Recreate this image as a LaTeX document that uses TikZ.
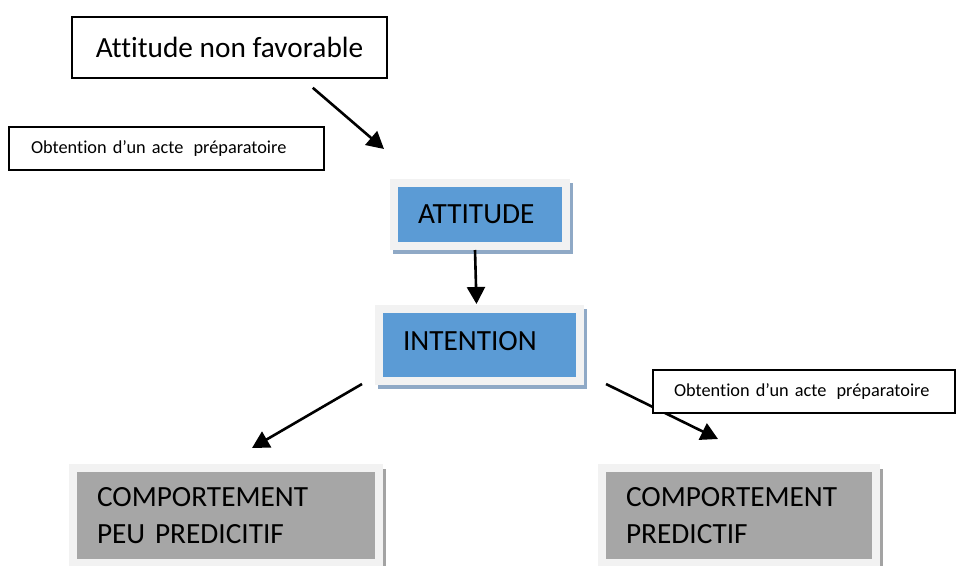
\documentclass[tikz,border=0pt]{standalone}
\usepackage{fontspec}
\setmainfont[Ligatures=NoCommon]{Carlito}
\usetikzlibrary{arrows.meta}

\definecolor{boxblue}{HTML}{5B9BD5}
\definecolor{boxgray}{HTML}{A6A6A6}
\definecolor{framegray}{HTML}{F2F2F2}
\definecolor{blueshadow}{HTML}{8FA9C6}
\definecolor{grayshadow}{HTML}{A3A3A3}

\newcommand{\bigtext}{\fontsize{29.3}{37}\selectfont}
\newcommand{\smalltext}{\fontsize{18.3}{22}\selectfont}

\begin{document}
\begin{tikzpicture}[
 x=1pt, y=-1pt,
 titlebox/.style={draw,line width=1.5pt,fill=white,font=\bigtext,minimum width=315pt,minimum height=61pt},
 notebox/.style={draw,line width=1.4pt,fill=white,font=\smalltext,align=left,inner xsep=22pt,minimum height=43pt},
 framed/.style={draw=framegray,line width=8pt,font=\bigtext,align=left,inner xsep=24pt},
 bluebox/.style={framed,fill=boxblue,
   preaction={draw=blueshadow,fill=blueshadow,transform canvas={shift={(3pt,-4pt)}}}},
 graybox/.style={framed,fill=boxgray,minimum height=95pt,
   preaction={draw=grayshadow,fill=grayshadow,transform canvas={shift={(3pt,-5pt)}}}},
 link/.style={-{Triangle[length=17pt,width=18pt]},line width=2.6pt},
]
\useasboundingbox (0,0) rectangle (957,565);

% Boxes
\node[titlebox] (favorable) at (229.5,47.5) {Attitude non favorable};
\node[notebox,text width=271pt] (acte1) at (166.5,148.5) {\mbox{Obtention d’un acte\hspace{4pt} préparatoire}};
\node[bluebox,text width=124pt,minimum height=63pt] (attitude) at (480,214.5) {ATTITUDE};
\node[bluebox,text width=153pt,minimum height=72pt,text depth=8pt] (intention) at (479.5,345) {INTENTION};
\node[graybox,text width=258pt] (peupredictif) at (226,515.5) {COMPORTEMENT\\PEU PREDICITIF};
\node[graybox,text width=226pt] (predictif) at (739,515.5) {COMPORTEMENT\\PREDICTIF};

% Arrows
\draw[link] ([xshift=-75pt,yshift=-9pt] favorable.south east) -- ([xshift=-6pt,yshift=30pt] attitude.north west);
\draw[link] ([xshift=-5pt] attitude.south) -- ([xshift=-3pt,yshift=1pt] intention.north);
\draw[link] ([xshift=-13pt,yshift=1pt] intention.south west) -- ([xshift=26pt,yshift=16pt] peupredictif.north);
\draw[link] ([xshift=22pt,yshift=1pt] intention.south east) -- ([xshift=-21pt,yshift=25pt] predictif.north);

% Label over the right arrow
\node[notebox,text width=260pt,inner xsep=21pt] (acte2) at (804,391.5) {\mbox{Obtention d’un acte\hspace{4pt} préparatoire}};

\end{tikzpicture}
\end{document}
